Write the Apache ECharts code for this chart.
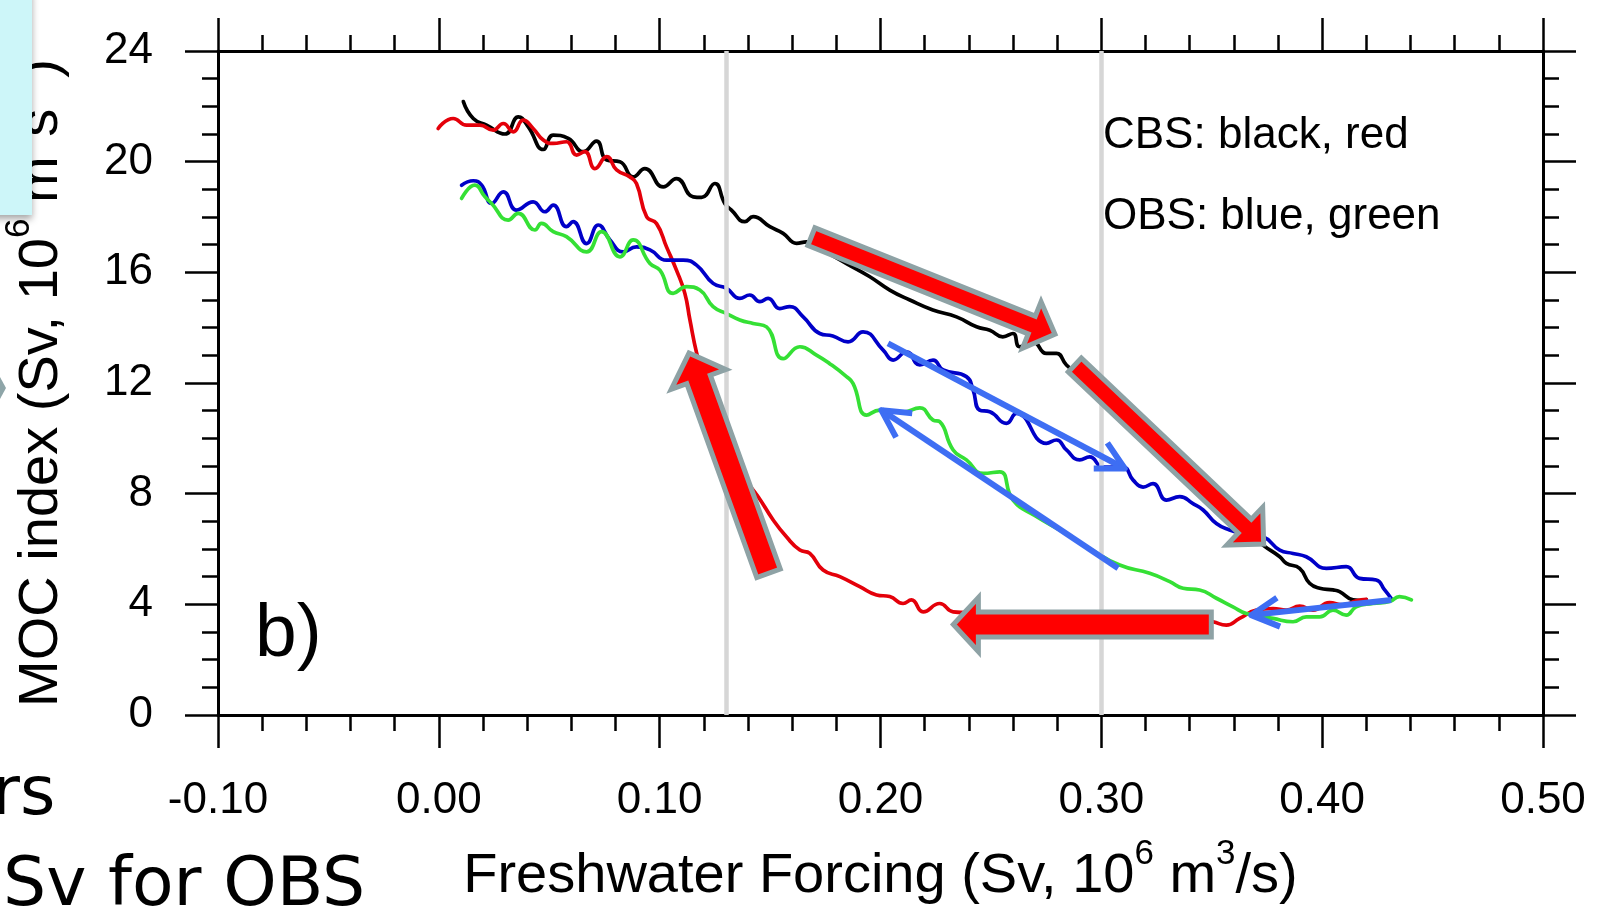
<!DOCTYPE html>
<html>
<head>
<meta charset="utf-8">
<style>
  html, body { margin: 0; padding: 0; background: #ffffff; }
  #chart { width: 1613px; height: 912px; }
</style>
<script src="https://cdn.jsdelivr.net/npm/echarts@6.0.0/dist/echarts.min.js"></script>
</head>
<body>
<div id="chart"></div>
<script>
// MOC index response to freshwater forcing: hysteresis of the CBS and OBS runs.

// Axis ranges / ticks
const xTicks = [-0.10, 0.00, 0.10, 0.20, 0.30, 0.40, 0.50];
const yTicks = [0, 4, 8, 12, 16, 20, 24];

// Reference forcing levels (grey verticals)
const forcingMarks = [0.13, 0.30];

// CBS, forcing increasing (black)
const cbsUp = [
  [0.0111,22.17],[0.0156,21.56],[0.0216,21.32],[0.0300,21.00],[0.0360,21.62],[0.0405,21.26],
  [0.0473,20.44],[0.0518,20.96],[0.0586,20.84],[0.0654,20.36],[0.0714,20.74],[0.0760,20.06],
  [0.0820,20.00],[0.0880,19.45],[0.0933,19.75],[0.1016,19.09],[0.1076,19.39],[0.1152,18.73],
  [0.1190,18.71],[0.1250,19.21],[0.1295,18.49],[0.1325,18.25],[0.1386,17.83],[0.1423,18.01],
  [0.1499,17.65],[0.1559,17.41],[0.1620,17.05],[0.1665,17.10],[0.1750,16.75],[0.1850,16.30],
  [0.1950,15.85],[0.2042,15.36],[0.2133,15.00],[0.2237,14.64],[0.2344,14.39],[0.2435,14.03],
  [0.2495,13.91],[0.2554,13.67],[0.2600,13.79],[0.2630,13.31],[0.2690,13.49],[0.2751,13.07],
  [0.2797,13.07],[0.2842,12.65],[0.2950,11.90],[0.3100,10.80],[0.3250,9.70],[0.3400,8.60],
  [0.3550,7.50],[0.3650,6.70],[0.3732,6.14],[0.3808,5.72],[0.3838,5.48],[0.3898,5.30],
  [0.3943,4.76],[0.3989,4.58],[0.4049,4.52],[0.4079,4.46],[0.4140,4.16],[0.4185,4.13],
  [0.4200,4.17]
];

// CBS, forcing decreasing (red)
const cbsDown = [
  [0.4200,4.18],[0.4154,4.13],[0.4094,3.98],[0.4033,4.06],[0.3958,3.79],[0.3898,3.94],
  [0.3838,3.79],[0.3777,3.85],[0.3702,3.79],[0.3626,3.49],[0.3566,3.25],[0.3506,3.37],
  [0.3400,3.55],[0.3250,3.60],[0.3100,3.68],[0.2950,3.62],[0.2800,3.70],[0.2650,3.66],
  [0.2500,3.72],[0.2400,3.70],[0.2329,3.73],[0.2268,4.03],[0.2193,3.73],[0.2140,4.16],
  [0.2102,4.03],[0.2042,4.28],[0.1982,4.34],[0.1906,4.64],[0.1816,5.00],[0.1740,5.24],
  [0.1680,5.84],[0.1635,5.96],[0.1574,6.44],[0.1514,7.05],[0.1446,7.89],[0.1380,8.60],
  [0.1310,9.60],[0.1250,11.00],[0.1200,12.20],[0.1167,13.10],[0.1137,14.28],[0.1114,15.24],
  [0.1076,16.08],[0.1031,16.92],[0.0986,17.76],[0.0941,18.01],[0.0895,19.21],[0.0865,19.45],
  [0.0805,19.70],[0.0760,20.18],[0.0707,19.75],[0.0661,20.36],[0.0624,20.24],[0.0578,20.72],
  [0.0518,20.66],[0.0473,20.78],[0.0427,21.20],[0.0382,21.50],[0.0337,21.08],[0.0292,21.38],
  [0.0246,21.14],[0.0186,21.32],[0.0126,21.32],[0.0065,21.56],[-0.0003,21.20]
];

// OBS, forcing increasing (blue)
const obsUp = [
  [0.0103,19.15],[0.0156,19.31],[0.0194,19.15],[0.0239,18.49],[0.0292,18.91],[0.0352,18.25],
  [0.0427,18.55],[0.0480,18.19],[0.0518,18.43],[0.0578,17.65],[0.0608,17.83],[0.0669,17.04],
  [0.0722,17.71],[0.0775,17.17],[0.0835,16.74],[0.0895,16.92],[0.0956,16.81],[0.1031,16.44],
  [0.1106,16.44],[0.1167,16.26],[0.1242,15.60],[0.1303,15.42],[0.1363,15.06],[0.1408,15.18],
  [0.1454,14.94],[0.1491,15.06],[0.1544,14.69],[0.1589,14.76],[0.1650,14.39],[0.1725,13.79],
  [0.1784,13.70],[0.1853,13.49],[0.1921,13.85],[0.2012,13.19],[0.2057,12.83],[0.2118,13.13],
  [0.2178,12.65],[0.2238,12.83],[0.2284,12.47],[0.2389,12.23],[0.2419,11.75],[0.2449,11.02],
  [0.2495,10.96],[0.2570,10.54],[0.2616,10.90],[0.2751,9.82],[0.2797,9.94],[0.2842,9.58],
  [0.2902,9.22],[0.2947,9.33],[0.3008,8.96],[0.3098,8.96],[0.3144,8.49],[0.3189,8.24],
  [0.3234,8.36],[0.3295,7.77],[0.3355,7.89],[0.3415,7.64],[0.3461,7.41],[0.3521,6.92],
  [0.3581,6.69],[0.3642,6.56],[0.3732,6.44],[0.3808,5.96],[0.3868,5.84],[0.3928,5.72],
  [0.4019,5.30],[0.4109,5.36],[0.4169,4.94],[0.4245,4.88],[0.4283,4.52],[0.4313,4.21]
];

// OBS, forcing decreasing (green)
const obsDown = [
  [0.4404,4.16],[0.4350,4.28],[0.4305,4.10],[0.4230,4.03],[0.4154,3.91],[0.4109,3.61],
  [0.4049,3.79],[0.3989,3.55],[0.3928,3.55],[0.3868,3.37],[0.3777,3.49],[0.3657,3.67],
  [0.3596,3.91],[0.3521,4.22],[0.3445,4.52],[0.3370,4.58],[0.3310,4.82],[0.3219,5.12],
  [0.3083,5.42],[0.2950,6.00],[0.2830,6.60],[0.2700,7.20],[0.2600,7.77],[0.2540,8.79],
  [0.2465,8.73],[0.2389,9.22],[0.2329,9.58],[0.2268,10.60],[0.2238,10.66],[0.2178,11.10],
  [0.2100,10.95],[0.1997,11.02],[0.1937,10.84],[0.1876,11.98],[0.1846,12.23],[0.1770,12.70],
  [0.1710,13.01],[0.1635,13.31],[0.1559,12.88],[0.1484,14.03],[0.1423,14.15],[0.1363,14.28],
  [0.1303,14.51],[0.1242,14.76],[0.1182,15.36],[0.1122,15.48],[0.1061,15.24],[0.1001,16.08],
  [0.0956,16.32],[0.0880,17.17],[0.0820,16.56],[0.0737,17.47],[0.0669,16.74],[0.0578,17.29],
  [0.0518,17.47],[0.0465,17.77],[0.0435,17.53],[0.0359,18.13],[0.0314,17.89],[0.0239,18.49],
  [0.0209,18.73],[0.0163,19.15],[0.0103,18.67]
];

// Annotation arrows, end points in data units
const blockArrows = [
  { from: [0.1687, 17.29], to: [0.2790, 13.76], shaft: 9.5, head: 25, len: 25 },
  { from: [0.2880, 12.65], to: [0.3735, 6.18],  shaft: 9.5, head: 26, len: 26 },
  { from: [0.1493, 5.12],  to: [0.1133, 13.08], shaft: 12.5, head: 29, len: 28 },
  { from: [0.3498, 3.27],  to: [0.2330, 3.27],  shaft: 12.5, head: 27, len: 25 }
];
const thinArrows = [
  { from: [0.2034, 13.43], to: [0.3106, 8.91] },
  { from: [0.3076, 5.30],  to: [0.2004, 11.02] },
  { from: [0.4313, 4.16],  to: [0.3679, 3.61] }
];

const FONT = "'Liberation Sans', Arial, Helvetica, sans-serif";
const HAND = "'Comic Sans MS', 'DejaVu Sans', sans-serif";

const chart = echarts.init(document.getElementById('chart'), null, { renderer: 'canvas' });

const axisLineStyle = { color: '#000', width: 3 };
const tickStyle = { color: '#000', width: 2.5 };

const richName = {
  m: { fontFamily: FONT, fontSize: 56, lineHeight: 80, color: '#000' },
  s: { fontFamily: FONT, fontSize: 35, lineHeight: 36, color: '#000', verticalAlign: 'top' }
};

function xAxisDef(pos, showLabel) {
  return {
    type: 'value', position: pos, min: -0.1, max: 0.5, interval: 0.1,
    axisLine: { show: true, onZero: false, lineStyle: axisLineStyle },
    axisTick: { show: true, inside: false, length: 33, lineStyle: tickStyle },
    minorTick: { show: true, splitNumber: 5, length: 16, lineStyle: tickStyle },
    splitLine: { show: false }, minorSplitLine: { show: false },
    axisLabel: {
      show: showLabel, margin: 64, fontFamily: FONT, fontSize: 44, color: '#000',
      formatter: v => v.toFixed(2)
    }
  };
}
function yAxisDef(pos, showLabel) {
  return {
    type: 'value', position: pos, min: 0, max: 24, interval: 4,
    axisLine: { show: true, onZero: false, lineStyle: axisLineStyle },
    axisTick: { show: true, inside: false, length: 33, lineStyle: tickStyle },
    minorTick: { show: true, splitNumber: 4, length: 16, lineStyle: tickStyle },
    splitLine: { show: false }, minorSplitLine: { show: false },
    axisLabel: { show: showLabel, margin: 65, fontFamily: FONT, fontSize: 44, color: '#000' }
  };
}

const xBottom = xAxisDef('bottom', true);
xBottom.name = '{m|Freshwater Forcing (Sv, 10}{s|6}{m| m}{s|3}{m|/s)}';
xBottom.nameLocation = 'middle';
xBottom.nameGap = 122;
xBottom.nameTextStyle = { rich: richName };

const yLeft = yAxisDef('left', true);
yLeft.name = '{m|MOC index (Sv, 10}{s|6}{m| m}{s|3}{m|s}{s|-1}{m|)}';
yLeft.nameLocation = 'middle';
yLeft.nameGap = 136;
yLeft.nameRotate = 90;
yLeft.nameTextStyle = { rich: richName };

function curve(name, data, color) {
  return {
    name, type: 'line', data, xAxisIndex: 0, yAxisIndex: 0,
    showSymbol: false, symbol: 'none', smooth: 0.5, z: 3,
    lineStyle: { color, width: 3.7, cap: 'round', join: 'round' },
    silent: true, animation: false
  };
}

chart.setOption({
  animation: false,
  backgroundColor: '#ffffff',
  grid: { left: 218, right: 70, top: 51, bottom: 197, containLabel: false, outerBoundsMode: 'none' },
  xAxis: [xBottom, xAxisDef('top', false)],
  yAxis: [yLeft, yAxisDef('right', false)],
  series: [
    {
      type: 'line', data: [], xAxisIndex: 0, yAxisIndex: 0, z: 1, silent: true,
      markLine: {
        silent: true, symbol: ['none', 'none'], label: { show: false },
        lineStyle: { color: '#d6d6d6', width: 4.5, type: 'solid' },
        data: forcingMarks.map(v => ({ xAxis: v }))
      }
    },
    curve('CBS forcing up', cbsUp, '#000000'),
    curve('CBS forcing down', cbsDown, '#e4000a'),
    curve('OBS forcing up', obsUp, '#0000c8'),
    curve('OBS forcing down', obsDown, '#35e035')
  ]
});

function px(p) { return chart.convertToPixel({ xAxisIndex: 0, yAxisIndex: 0 }, p); }

function blockArrow(a) {
  const p0 = px(a.from), p1 = px(a.to);
  const dx = p1[0] - p0[0], dy = p1[1] - p0[1];
  const d = Math.hypot(dx, dy);
  const ux = dx / d, uy = dy / d, nx = -uy, ny = ux;
  const bx = p1[0] - ux * a.len, by = p1[1] - uy * a.len;
  return {
    type: 'polygon', z: 50, silent: true,
    shape: { points: [
      [p0[0] + nx * a.shaft, p0[1] + ny * a.shaft],
      [bx + nx * a.shaft, by + ny * a.shaft],
      [bx + nx * a.head, by + ny * a.head],
      [p1[0], p1[1]],
      [bx - nx * a.head, by - ny * a.head],
      [bx - nx * a.shaft, by - ny * a.shaft],
      [p0[0] - nx * a.shaft, p0[1] - ny * a.shaft]
    ] },
    style: { fill: '#ff0000', stroke: '#8ea2a5', lineWidth: 5, lineJoin: 'miter' }
  };
}

function thinArrow(a) {
  const p0 = px(a.from), p1 = px(a.to);
  const ang = Math.atan2(p0[1] - p1[1], p0[0] - p1[0]);
  const wing = 31, spread = 28 * Math.PI / 180;
  const w1 = [p1[0] + wing * Math.cos(ang + spread), p1[1] + wing * Math.sin(ang + spread)];
  const w2 = [p1[0] + wing * Math.cos(ang - spread), p1[1] + wing * Math.sin(ang - spread)];
  const st = { stroke: '#3e6ef3', lineWidth: 6, lineCap: 'butt', lineJoin: 'round', fill: null };
  return [
    { type: 'polyline', z: 52, silent: true, shape: { points: [p0, p1] }, style: st },
    { type: 'polyline', z: 52, silent: true, shape: { points: [w1, p1, w2] }, style: st }
  ];
}

const graphics = [];
blockArrows.forEach(a => graphics.push(blockArrow(a)));
thinArrows.forEach(a => graphics.push(...thinArrow(a)));

// Legend-like notes and panel tag
graphics.push(
  { type: 'text', z: 60, silent: true,
    style: { text: 'CBS: black, red', x: 1103, y: 114, font: '44px ' + FONT, fill: '#000', verticalAlign: 'top' } },
  { type: 'text', z: 60, silent: true,
    style: { text: 'OBS: blue, green', x: 1103, y: 195, font: '44px ' + FONT, fill: '#000', verticalAlign: 'top' } },
  { type: 'text', z: 60, silent: true,
    style: { text: 'b)', x: 255, y: 598, font: '75px ' + FONT, fill: '#000', verticalAlign: 'top' } }
);

// Slide fragments around the plot
graphics.push(
  { type: 'rect', z: 70, silent: true,
    shape: { x: -10, y: -10, width: 42, height: 225 },
    style: { fill: '#cdf6f9', shadowColor: 'rgba(0,0,0,0.35)', shadowBlur: 7, shadowOffsetY: 4 } },
  { type: 'polygon', z: 70, silent: true,
    shape: { points: [[0, 377], [6, 388], [0, 399]] }, style: { fill: '#8ea5a8' } },
  { type: 'text', z: 70, silent: true,
    style: { text: 'rs', x: -8, y: 762, font: '68px ' + HAND, fill: '#000', verticalAlign: 'top' } },
  { type: 'text', z: 70, silent: true,
    style: { text: 'Sv for OBS', x: 3, y: 853, font: '68px ' + HAND, fill: '#000', verticalAlign: 'top' } }
);

chart.setOption({ graphic: { elements: graphics } });
</script>
</body>
</html>
